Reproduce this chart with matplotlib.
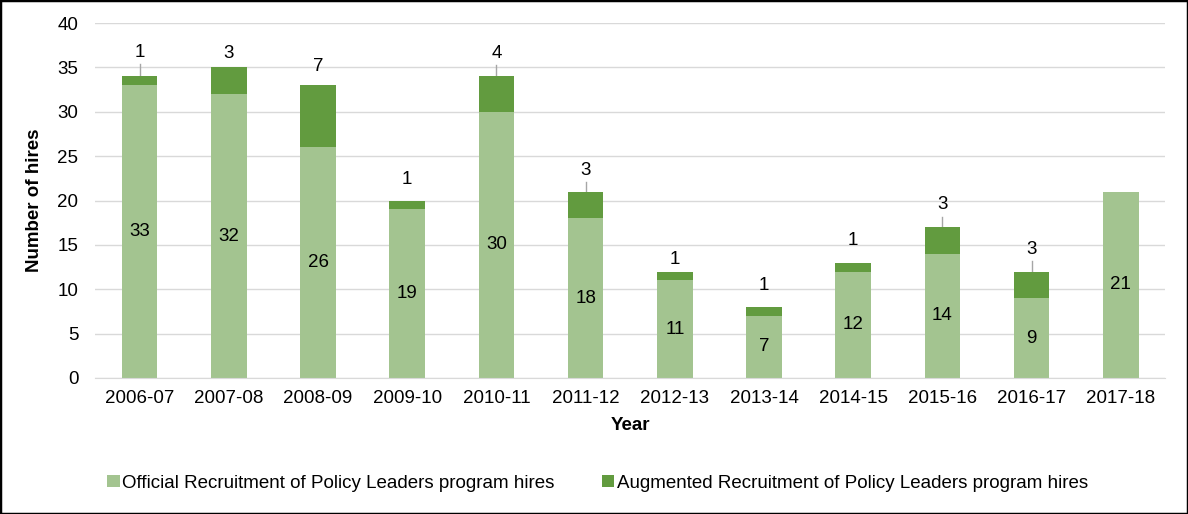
import matplotlib.pyplot as plt
from matplotlib.patches import Rectangle
import numpy as np

years = ["2006-07", "2007-08", "2008-09", "2009-10", "2010-11", "2011-12",
         "2012-13", "2013-14", "2014-15", "2015-16", "2016-17", "2017-18"]
official = [33, 32, 26, 19, 30, 18, 11, 7, 12, 14, 9, 21]
augmented = [1, 3, 7, 1, 4, 3, 1, 1, 1, 3, 3, 0]
# where Excel put the augmented labels (data units) and which got a leader line
aug_label_y = [36.7, 36.6, 35.1, 22.4, 36.6, 23.4, 13.4, 10.4, 15.5, 19.5, 14.5, None]
aug_leader = [True, False, False, False, True, True, False, False, False, True, True, False]

LIGHT = "#A3C490"
DARK = "#629B3F"
GRID = "#D9D9D9"
FS = 13.5

plt.rcParams["font.family"] = ["Liberation Sans", "DejaVu Sans"]

fig = plt.figure(figsize=(11.88, 5.14), dpi=100)
ax = fig.add_axes([0.080, 0.2646, 0.901, 0.6904])

x = np.arange(len(years))
b1 = ax.bar(x, official, width=0.4, color=LIGHT,
            label="Official Recruitment of Policy Leaders program hires", zorder=2)
b2 = ax.bar(x, augmented, width=0.4, bottom=official, color=DARK,
            label="Augmented Recruitment of Policy Leaders program hires", zorder=2)

for i, v in enumerate(official):
    ax.text(i, v / 2, str(v), ha="center", va="center", fontsize=FS, zorder=3)

for i, (o, a, ly, lead) in enumerate(zip(official, augmented, aug_label_y, aug_leader)):
    if not a or ly is None:
        continue
    top = o + a
    ax.text(i, ly, str(a), ha="center", va="center", fontsize=FS, zorder=3)
    if lead:
        ax.plot([i, i], [top, ly - 1.3], color="#A6A6A6", lw=1, zorder=1)

ax.set_xlim(-0.5, len(years) - 0.5)
ax.set_ylim(0, 40)
ax.set_yticks(range(0, 41, 5))
ax.set_xticks(x)
ax.set_xticklabels(years)
ax.tick_params(axis="both", length=0, labelsize=FS, colors="black")
ax.tick_params(axis="x", pad=9)
ax.tick_params(axis="y", pad=12)
ax.yaxis.grid(True, color=GRID, lw=1, zorder=0)
ax.set_axisbelow(True)
for side in ("top", "right", "left"):
    ax.spines[side].set_visible(False)
ax.spines["bottom"].set_color(GRID)

ax.set_xlabel("Year", fontsize=FS, fontweight="bold", labelpad=7)
ax.set_ylabel("Number of hires", fontsize=FS, fontweight="bold", labelpad=10)

fig.legend(handles=[b1, b2], loc="center", bbox_to_anchor=(0.503, 0.06), ncol=2,
           frameon=False, fontsize=FS, handlelength=0.65, handleheight=0.65,
           handletextpad=0.15, columnspacing=2.5)

fig.patches.append(Rectangle((0, 0), 1, 1, transform=fig.transFigure,
                             fill=False, edgecolor="black", lw=2.5))

fig.savefig("out.png", dpi=100)
